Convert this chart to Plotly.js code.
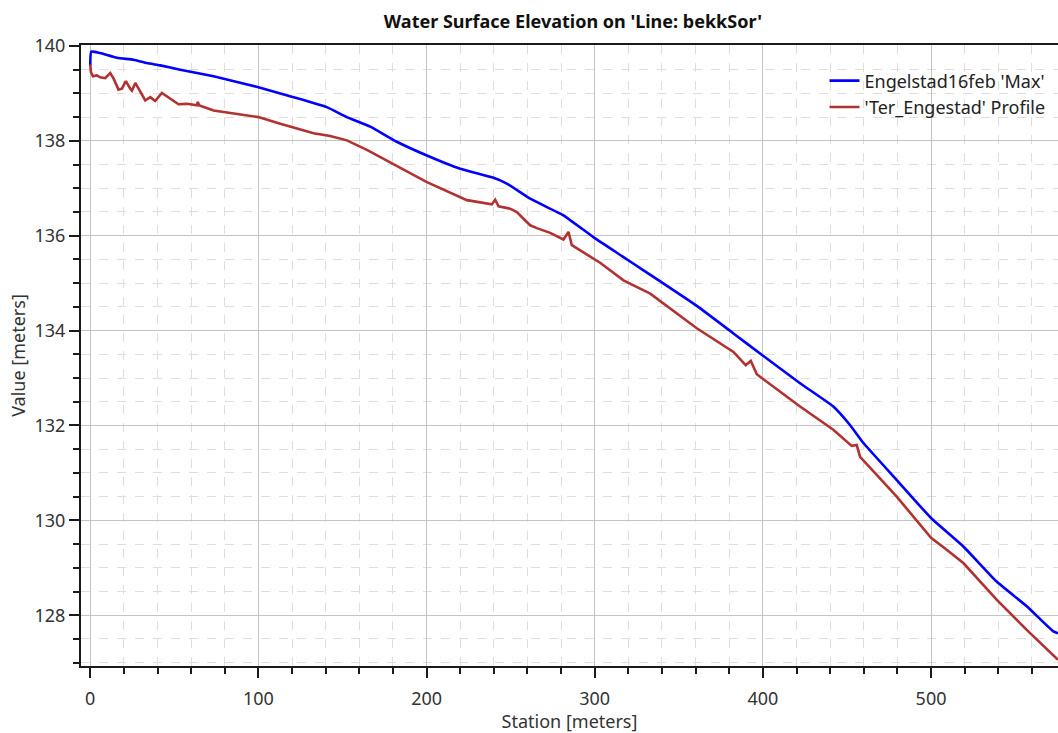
<!DOCTYPE html>
<html>
<head>
<meta charset="utf-8">
<script src="https://cdn.plot.ly/plotly-3.0.1.min.js"></script>
<style>html,body{margin:0;padding:0;background:#fff;}#chart{width:1058px;height:733px;}</style>
</head>
<body>
<div id="chart"></div>
<script>
const chartTitle = "Water Surface Elevation on 'Line: bekkSor'";
const xTitle = "Station [meters]";
const yTitle = "Value [meters]";
const seriesNames = ["Engelstad16feb 'Max'", "'Ter_Engestad' Profile"];

const blueX = [0, 0.6, 5.9, 15.9, 25.7, 33.7, 41.6, 53.5, 73.3, 100, 120.9, 140.7, 152.6, 166.5, 182.3, 200.2, 220, 239.8, 247.7, 261.6, 281.4, 299.2, 317.1, 329, 360.7, 382.5, 399.7, 422.1, 441.9, 451.8, 459.8, 479.6, 500, 519.2, 539, 556.9, 572.7, 575.5];
const blueY = [139.59, 139.88, 139.85, 139.75, 139.71, 139.64, 139.59, 139.50, 139.36, 139.13, 138.92, 138.71, 138.50, 138.30, 137.98, 137.69, 137.41, 137.22, 137.10, 136.78, 136.43, 135.97, 135.55, 135.27, 134.52, 133.94, 133.48, 132.89, 132.40, 132.01, 131.63, 130.85, 130.05, 129.45, 128.71, 128.19, 127.66, 127.62];

const redX = [0, 0.4, 1.6, 4, 5.9, 8.9, 9.9, 11.9, 13.9, 16.8, 18.8, 21.2, 23.8, 24.8, 26.8, 29.7, 32.7, 35.7, 38.6, 42.6, 45.6, 48, 52.5, 57.5, 63.4, 64, 64.6, 73.3, 83.2, 100, 113, 132.8, 142.7, 152.6, 164.5, 172.4, 200.2, 224, 238.8, 240.8, 242.8, 249.7, 253.7, 261.6, 265.6, 273.5, 281.4, 284.4, 286.4, 303.2, 317.1, 333, 360.7, 382.5, 389.8, 392.8, 396.4, 399.7, 422.1, 441.9, 452.8, 455.8, 457.8, 479.6, 500, 509.3, 519.2, 539, 556.9, 575.5];
const redY = [139.61, 139.45, 139.36, 139.38, 139.34, 139.32, 139.36, 139.43, 139.31, 139.08, 139.10, 139.26, 139.10, 139.06, 139.22, 139.03, 138.85, 138.92, 138.84, 139.01, 138.94, 138.87, 138.77, 138.78, 138.75, 138.82, 138.75, 138.64, 138.59, 138.50, 138.36, 138.16, 138.10, 138.01, 137.81, 137.66, 137.13, 136.75, 136.66, 136.76, 136.62, 136.57, 136.50, 136.22, 136.16, 136.06, 135.92, 136.08, 135.80, 135.43, 135.06, 134.78, 134.05, 133.55, 133.27, 133.36, 133.08, 132.99, 132.40, 131.91, 131.57, 131.59, 131.34, 130.50, 129.63, 129.38, 129.10, 128.33, 127.69, 127.06];

const FONT = "Noto Sans, DejaVu Sans, sans-serif";

const traces = [
  {x: blueX, y: blueY, name: seriesNames[0], type: 'scatter', mode: 'lines',
   line: {color: '#0000ff', width: 2.6, shape: 'spline', smoothing: 0.4}},
  {x: redX, y: redY, name: seriesNames[1], type: 'scatter', mode: 'lines',
   line: {color: '#b23232', width: 2.6}}
];

const axisCommon = {
  showline: true, linecolor: '#1a1a1a', linewidth: 2,
  ticks: 'outside', ticklen: 10, tickwidth: 2, tickcolor: '#1a1a1a',
  showgrid: true, gridcolor: '#c4c4c4', gridwidth: 1,
  zeroline: false,
  tickfont: {family: FONT, size: 18, color: '#333'}
};

const layout = {
  width: 1058, height: 733,
  paper_bgcolor: '#fff', plot_bgcolor: '#fff',
  margin: {l: 81, r: 0, t: 45, b: 67},
  title: {text: '<b>' + chartTitle + '</b>', x: 0.5415, xanchor: 'center', y: 0.97, yanchor: 'middle',
          font: {family: FONT, size: 18, color: '#111'}},
  showlegend: true,
  legend: {x: 0.761, xanchor: 'left', y: 0.972, yanchor: 'top', bgcolor: 'rgba(0,0,0,0)',
           font: {family: FONT, size: 18, color: '#222'}},
  xaxis: Object.assign({}, axisCommon, {
    range: [-5.5, 575.5], tick0: 0, dtick: 100, mirror: true, ticklabelstandoff: 5,
    title: {text: xTitle, font: {family: FONT, size: 18, color: '#333'}, standoff: 2},
    minor: {dtick: 20, tick0: 0, ticks: 'outside', ticklen: 6, tickwidth: 2, tickcolor: '#1a1a1a',
            showgrid: true, gridcolor: '#e2dcdc', griddash: 'dash', gridwidth: 1}
  }),
  yaxis: Object.assign({}, axisCommon, {
    range: [126.93, 140.02], tick0: 128, dtick: 2,
    title: {text: yTitle, font: {family: FONT, size: 18, color: '#333'}, standoff: 4},
    minor: {dtick: 0.5, tick0: 128, ticks: 'outside', ticklen: 6, tickwidth: 2, tickcolor: '#1a1a1a',
            showgrid: true, gridcolor: '#e2dcdc', griddash: 'dash', gridwidth: 1}
  })
};

Plotly.newPlot('chart', traces, layout, {displayModeBar: false, staticPlot: true});
</script>
</body>
</html>
